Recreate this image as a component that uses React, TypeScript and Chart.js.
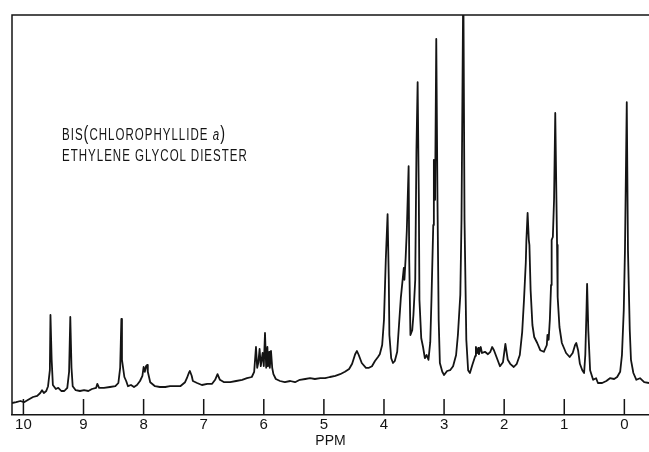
import { useEffect, useRef } from "react";
import { Chart, registerables } from "chart.js";

Chart.register(...registerables);

const TITLE_LINE_1 = ["BIS", "(", "CHLOROPHYLLIDE ", "a", ")"];
const TITLE_LINE_2 = "ETHYLENE GLYCOL DIESTER";
const X_TITLE = "PPM";
const X_TICKS = [10, 9, 8, 7, 6, 5, 4, 3, 2, 1, 0];
const X_MIN = -0.41;
const X_MAX = 10.19;

// chemical shift (ppm) of each traced point of the recorder trace
const SHIFT_PPM = [
  10.19, 10.12, 10.05, 9.99, 9.92, 9.84, 9.77, 9.72, 9.69, 9.66, 9.62, 9.59, 9.56, 9.55, 9.53, 9.51,
  9.46, 9.42, 9.37, 9.32, 9.27, 9.24, 9.22, 9.2, 9.18, 9.13, 9.06, 8.99, 8.92, 8.86, 8.79, 8.77,
  8.74, 8.66, 8.56, 8.47, 8.42, 8.39, 8.37, 8.36, 8.32, 8.29, 8.26, 8.21, 8.16, 8.11, 8.06, 8.02,
  8.0, 7.98, 7.96, 7.94, 7.93, 7.89, 7.81, 7.73, 7.64, 7.56, 7.48, 7.39, 7.31, 7.28, 7.24, 7.23,
  7.2, 7.18, 7.11, 7.03, 6.94, 6.86, 6.81, 6.77, 6.73, 6.66, 6.56, 6.46, 6.36, 6.28, 6.2, 6.16,
  6.13, 6.11, 6.09, 6.07, 6.05, 6.02, 6.0, 5.98, 5.96, 5.94, 5.93, 5.91, 5.9, 5.88, 5.86, 5.84,
  5.8, 5.73, 5.65, 5.56, 5.48, 5.4, 5.31, 5.23, 5.15, 5.06, 4.98, 4.9, 4.81, 4.73, 4.65, 4.58,
  4.53, 4.48, 4.45, 4.42, 4.37, 4.3, 4.25, 4.2, 4.15, 4.1, 4.07, 4.03, 4.0, 3.97, 3.94, 3.92,
  3.91, 3.88, 3.85, 3.82, 3.78, 3.75, 3.72, 3.69, 3.67, 3.66, 3.64, 3.62, 3.59, 3.58, 3.56, 3.53,
  3.51, 3.48, 3.46, 3.44, 3.42, 3.41, 3.38, 3.35, 3.32, 3.29, 3.26, 3.23, 3.21, 3.18, 3.17, 3.15,
  3.13, 3.11, 3.09, 3.07, 3.03, 3.0, 2.95, 2.9, 2.85, 2.8, 2.77, 2.73, 2.71, 2.68, 2.66, 2.63,
  2.6, 2.57, 2.53, 2.48, 2.47, 2.45, 2.43, 2.42, 2.39, 2.37, 2.32, 2.27, 2.23, 2.2, 2.17, 2.12,
  2.07, 2.02, 1.98, 1.94, 1.9, 1.84, 1.79, 1.74, 1.7, 1.67, 1.64, 1.63, 1.61, 1.59, 1.58, 1.56,
  1.53, 1.5, 1.45, 1.4, 1.34, 1.29, 1.28, 1.26, 1.24, 1.22, 1.21, 1.19, 1.17, 1.15, 1.12, 1.11,
  1.08, 1.04, 0.97, 0.91, 0.86, 0.82, 0.8, 0.77, 0.74, 0.7, 0.67, 0.65, 0.63, 0.62, 0.6, 0.57,
  0.52, 0.47, 0.44, 0.37, 0.3, 0.24, 0.17, 0.12, 0.07, 0.04, 0.01, -0.01, -0.04, -0.06, -0.09, -0.11,
  -0.15, -0.2, -0.26, -0.33, -0.41,
];

// relative signal intensity (full frame height = 100)
const INTENSITY = [
  3.0, 3.2, 3.5, 3.2, 3.8, 4.5, 4.8, 5.5, 6.2, 5.5, 6.0, 7.2, 11.2, 25.0, 13.8, 7.5,
  6.5, 6.8, 6.0, 6.0, 6.8, 10.8, 24.5, 11.8, 7.2, 6.2, 6.0, 6.2, 6.0, 6.5, 6.8, 7.8,
  6.8, 6.8, 7.0, 7.2, 8.0, 11.8, 24.0, 13.8, 9.5, 8.5, 7.2, 7.5, 7.0, 7.5, 8.5, 9.8,
  12.0, 10.8, 12.2, 12.5, 10.8, 8.2, 7.2, 7.0, 7.0, 7.2, 7.2, 7.2, 8.2, 9.2, 10.8, 11.0,
  9.8, 8.5, 8.0, 7.5, 7.8, 7.8, 8.8, 10.2, 8.8, 8.2, 8.2, 8.5, 8.8, 9.2, 9.5, 10.8,
  17.0, 11.8, 13.2, 16.5, 12.2, 15.5, 12.2, 20.5, 11.8, 17.0, 12.2, 15.8, 11.8, 16.0, 11.8, 10.2,
  9.0, 8.5, 8.2, 8.5, 8.2, 8.8, 9.0, 9.2, 9.0, 9.2, 9.2, 9.5, 9.8, 10.2, 10.8, 11.5,
  12.8, 15.2, 16.0, 15.0, 13.0, 11.8, 11.8, 12.2, 13.5, 14.5, 15.2, 17.5, 23.8, 38.8, 50.2, 33.8,
  20.0, 14.2, 13.0, 13.5, 15.8, 22.5, 29.2, 33.8, 36.8, 33.8, 39.2, 46.2, 62.2, 38.8, 20.0, 21.2,
  25.0, 33.8, 66.2, 83.2, 53.8, 28.8, 19.2, 17.0, 14.2, 15.0, 13.8, 18.2, 28.8, 47.5, 63.8, 53.8,
  94.0, 53.8, 23.8, 13.0, 10.8, 10.0, 11.0, 11.2, 12.2, 15.0, 20.0, 30.0, 48.8, 110.0, 48.8, 18.8,
  11.2, 10.5, 12.5, 14.8, 17.0, 15.5, 16.8, 15.2, 17.0, 15.5, 15.8, 15.2, 15.8, 17.0, 16.2, 14.2,
  12.2, 13.2, 17.8, 13.8, 12.8, 12.0, 12.8, 15.0, 20.8, 28.8, 38.2, 43.8, 50.5, 43.8, 42.5, 31.2,
  22.5, 19.5, 18.0, 16.2, 15.8, 17.5, 20.0, 18.8, 23.8, 32.5, 43.8, 44.5, 53.8, 75.5, 42.5, 29.5,
  22.0, 18.0, 15.5, 14.5, 15.5, 17.5, 18.0, 16.2, 12.8, 11.2, 10.5, 15.0, 26.2, 32.8, 21.2, 11.2,
  8.8, 9.2, 8.0, 8.0, 8.5, 9.2, 9.0, 9.5, 10.8, 15.0, 26.2, 41.2, 78.2, 41.2, 21.2, 13.8,
  10.5, 8.8, 9.2, 8.2, 8.0,
];

const INK = "#141414";
const FONT = '"Liberation Sans", Arial, sans-serif';

const frameAndTicks = {
  id: "frameAndTicks",
  afterDatasetsDraw(chart: any) {
    const { ctx, chartArea, scales } = chart;
    const { left, right, top, bottom } = chartArea;
    const x = scales.x;
    ctx.save();
    ctx.strokeStyle = INK;
    ctx.lineWidth = 1.5;
    ctx.beginPath();
    ctx.moveTo(left, bottom);
    ctx.lineTo(left, top);
    ctx.lineTo(right, top);
    ctx.stroke();
    ctx.beginPath();
    for (const t of x.ticks) {
      const px = x.getPixelForValue(t.value);
      ctx.moveTo(px, bottom);
      ctx.lineTo(px, bottom - 16);
    }
    ctx.stroke();
    ctx.restore();
  },
};

export default function App() {
  const canvasRef = useRef<HTMLCanvasElement | null>(null);

  useEffect(() => {
    if (!canvasRef.current) return;
    const points = SHIFT_PPM.map((p, i) => ({ x: p, y: INTENSITY[i] }));
    const chart = new Chart(canvasRef.current, {
      type: "line",
      data: {
        datasets: [
          {
            data: points,
            borderColor: INK,
            borderWidth: 1.8,
            borderJoinStyle: "round",
            pointRadius: 0,
            tension: 0,
            fill: false,
          },
        ],
      },
      options: {
        animation: false,
        responsive: true,
        maintainAspectRatio: false,
        layout: { padding: { left: 12, top: 15, right: 0, bottom: 0 } },
        plugins: { legend: { display: false }, tooltip: { enabled: false } },
        scales: {
          x: {
            type: "linear",
            reverse: true,
            min: X_MIN,
            max: X_MAX,
            afterBuildTicks: (s: any) => {
              s.ticks = X_TICKS.map((v) => ({ value: v }));
            },
            afterFit: (s: any) => {
              s.height = 37;
            },
            grid: { display: false, drawTicks: false },
            border: { display: true, color: INK, width: 1.5 },
            ticks: {
              color: INK,
              font: { family: FONT, size: 15 },
              padding: 1,
              maxRotation: 0,
              autoSkip: false,
              callback: (v: any) => String(v),
            },
            title: {
              display: true,
              text: X_TITLE,
              color: INK,
              font: { family: FONT, size: 14 },
              padding: { top: 0, bottom: 2 },
            },
          },
          y: { display: false, min: 0, max: 100 },
        },
      },
      plugins: [frameAndTicks],
    } as any);
    return () => chart.destroy();
  }, []);

  return (
    <div style={{ position: "fixed", left: 0, top: 0, width: 649, height: 452, background: "#fff" }}>
      <canvas ref={canvasRef} />
      <div
        style={{
          position: "absolute",
          left: 62,
          top: 123,
          fontFamily: FONT,
          fontSize: 16,
          letterSpacing: "1.4px",
          lineHeight: "21px",
          color: INK,
          transform: "scaleX(0.72)",
          transformOrigin: "left top",
          whiteSpace: "nowrap",
        }}
      >
        <div>
          {TITLE_LINE_1[0]}
          <span style={{ fontSize: 20, fontWeight: 300 }}>{TITLE_LINE_1[1]}</span>
          {TITLE_LINE_1[2]}
          <i>{TITLE_LINE_1[3]}</i>
          <span style={{ fontSize: 20, fontWeight: 300 }}>{TITLE_LINE_1[4]}</span>
        </div>
        <div>{TITLE_LINE_2}</div>
      </div>
    </div>
  );
}
